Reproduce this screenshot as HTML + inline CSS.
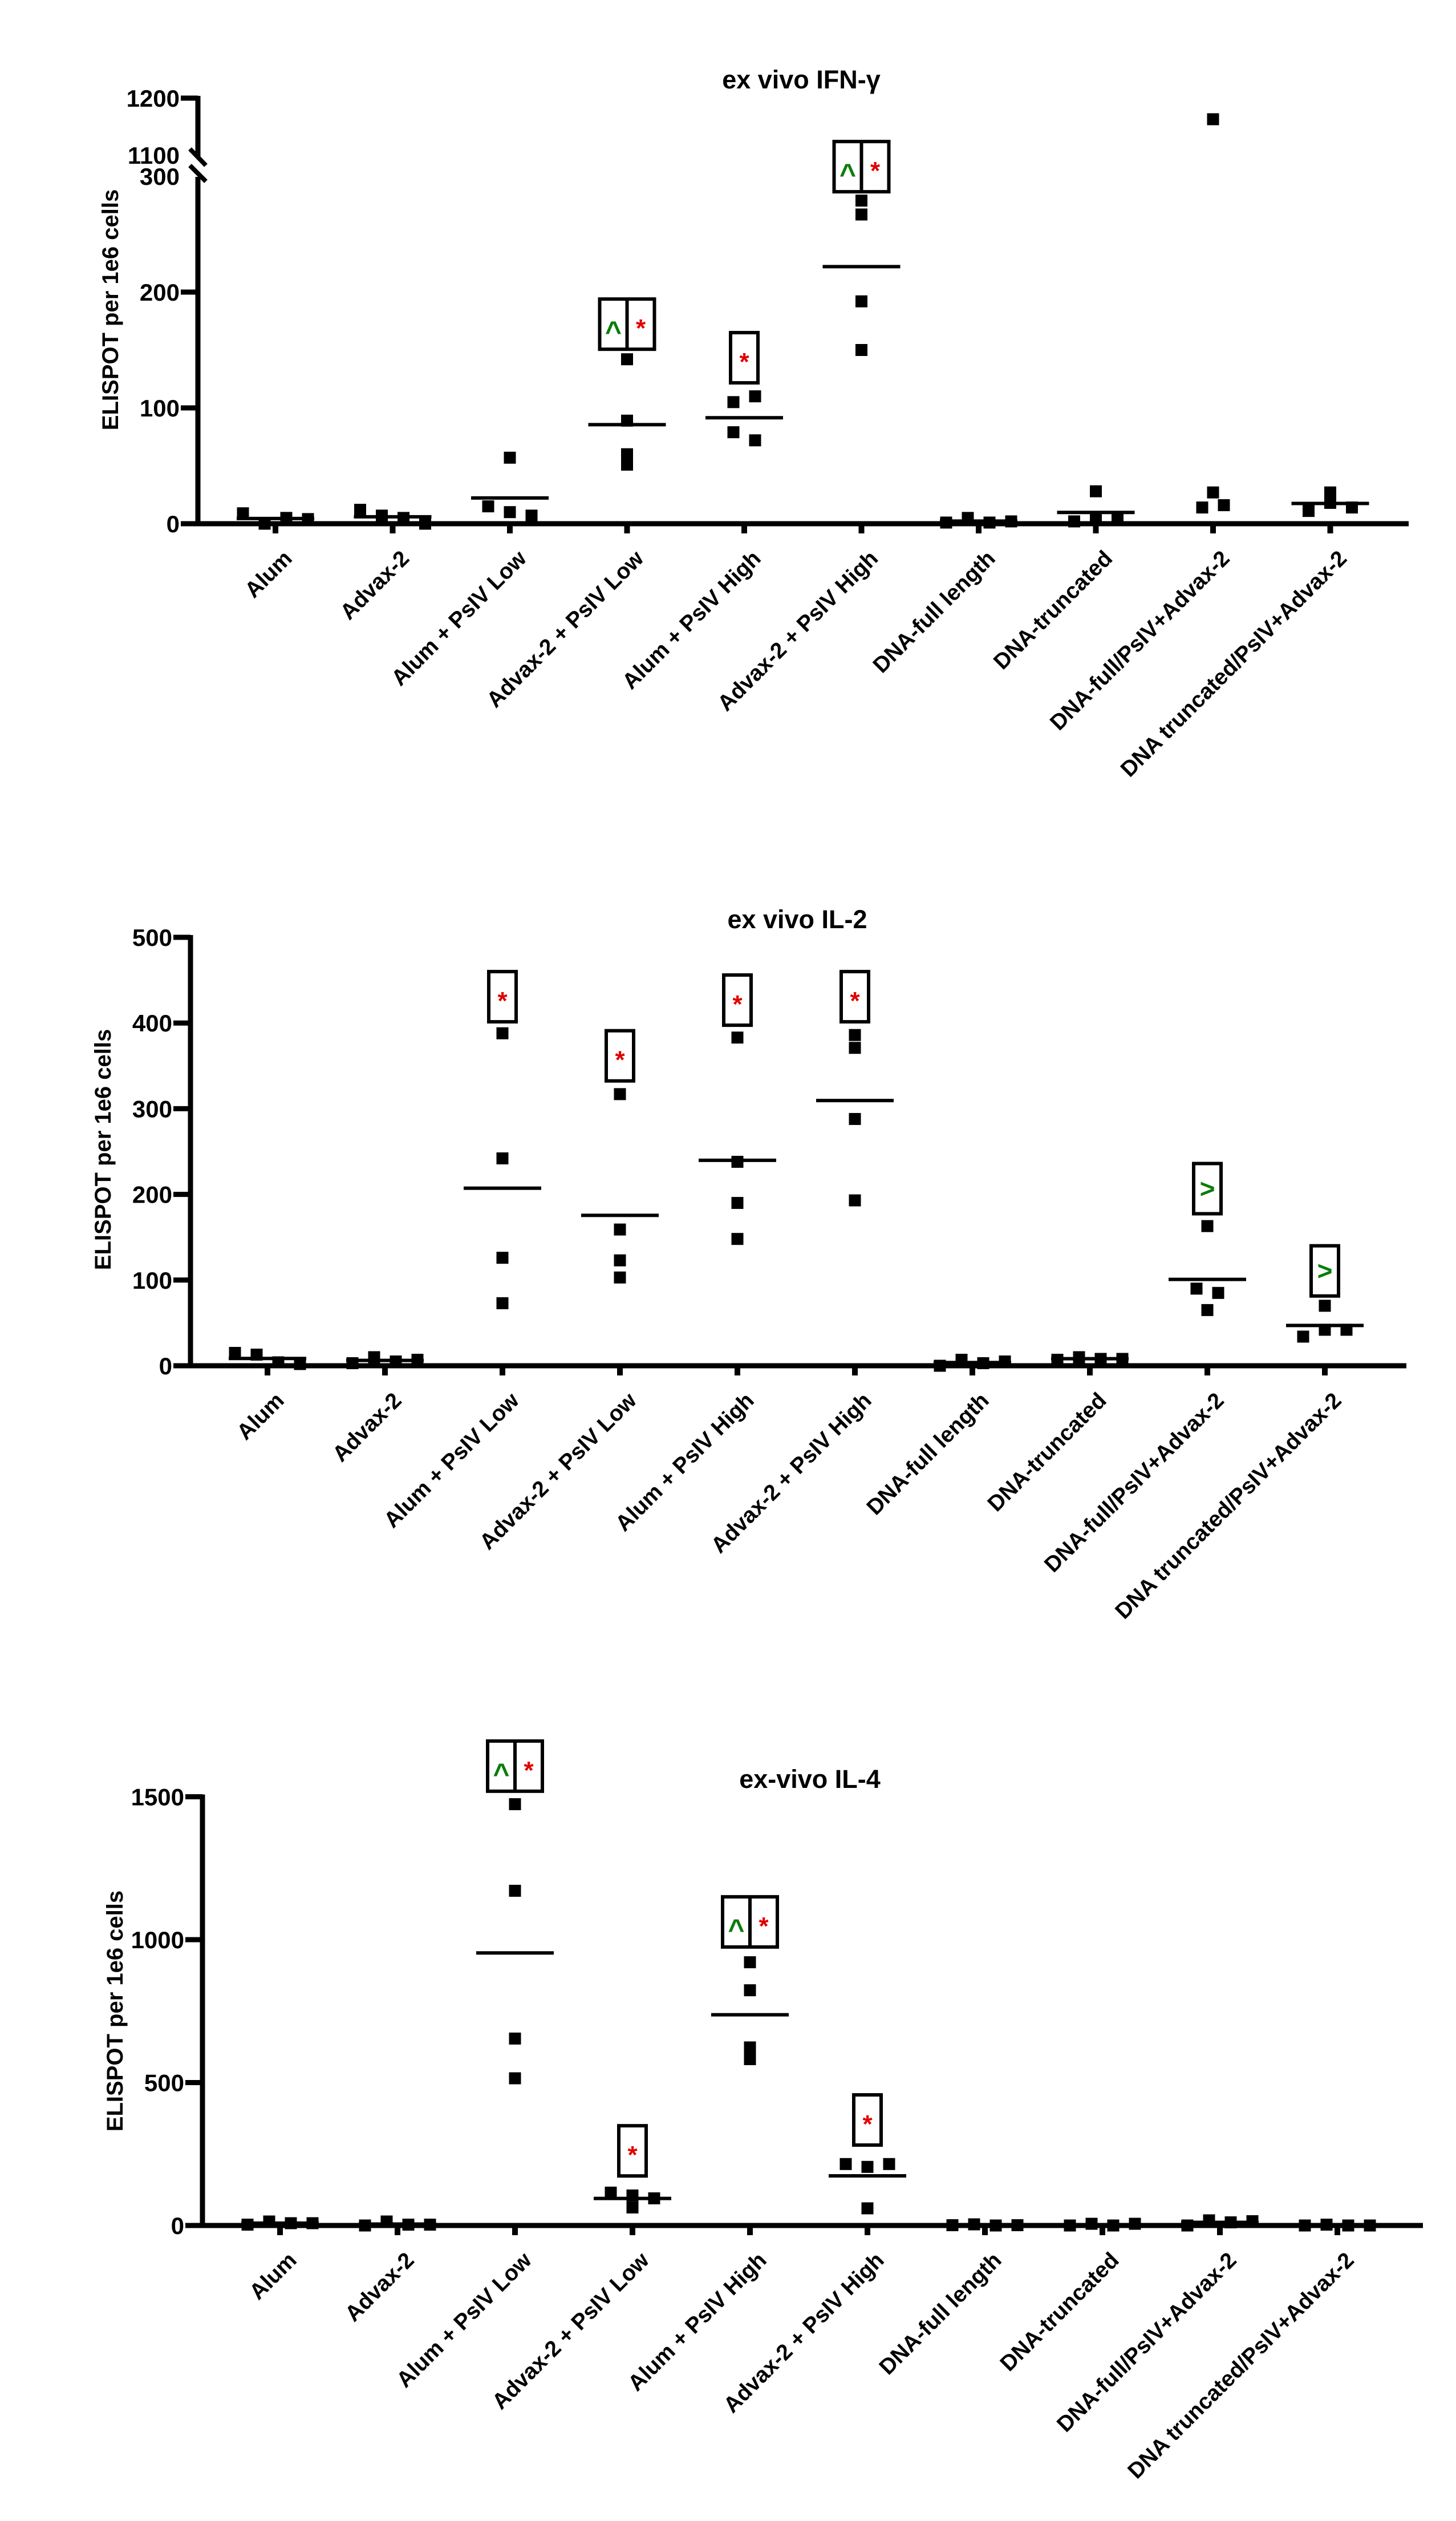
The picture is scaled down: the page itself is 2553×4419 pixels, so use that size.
<!DOCTYPE html>
<html><head><meta charset="utf-8"><style>
html,body{margin:0;padding:0;background:#fff;}
svg{display:block;}
text{font-family:"Liberation Sans",Arial,sans-serif;font-weight:bold;}
</style></head><body>
<svg id="fig" xmlns="http://www.w3.org/2000/svg" width="2553" height="4419" viewBox="0 0 2553 4419">
<rect width="2553" height="4419" fill="#fff"/>
</svg>
<script>
const categories = ["Alum","Advax-2","Alum + PsIV Low","Advax-2 + PsIV Low","Alum + PsIV High","Advax-2 + PsIV High","DNA-full length","DNA-truncated","DNA-full/PsIV+Advax-2","DNA truncated/PsIV+Advax-2"];

// Panel 1: IFN-gamma
const ifnValues = [[9,0,5,4],[12,7,5,0],[57,15,10,7],[142,89,51,60],[105,110,79,72],[279,267,192,150],[1,5,1,2],[28,2,5,4],[1163,27,14,16],[11,18,27,14]];
const ifnTicks = [0,100,200,300,1100,1200];
const ifnAnnotGroups = [3,4,5];
const ifnAnnotTops = [194,165,330];
const ifnAnnotSyms = ["^*","*","^*"];

// Panel 2: IL-2
const il2Values = [[15,13,4,2],[3,10,5,7],[388,242,126,73],[317,159,123,103],[383,238,190,148],[386,371,288,193],[0,7,3,5],[7,10,8,8],[163,90,85,65],[70,34,42,42]];
const il2Ticks = [0,100,200,300,400,500];
const il2AnnotGroups = [2,3,4,5,8,9];
const il2AnnotTops = [460,391,456,460,236,140];
const il2AnnotSyms = ["*","*","*","*",">",">"];

// Panel 3: IL-4
const il4Values = [[3,14,8,8],[0,14,3,3],[1474,1171,654,515],[115,63,105,95],[921,823,623,582],[215,205,215,60],[1,4,0,1],[0,6,0,6],[0,18,11,15],[0,3,0,0]];
const il4Ticks = [0,500,1000,1500];
const il4AnnotGroups = [2,3,4,5];
const il4AnnotTops = [1695,349,1150,457];
const il4AnnotSyms = ["^*","*","^*","*"];

const NS = "http://www.w3.org/2000/svg";
const svg = document.getElementById("fig");
function mk(tag, attrs, parent){
  const e = document.createElementNS(NS, tag);
  for (const k in attrs) e.setAttribute(k, attrs[k]);
  (parent||svg).appendChild(e);
  return e;
}

function drawPanel(cfg){
  const g = mk("g", {});
  
  
  const y = cfg.yScale;
  const xc = i => cfg.x0 + i*cfg.step;
  const t = mk("text", {x:cfg.titleX, y:cfg.titleY, "font-size":45, "text-anchor":"middle", fill:"#000"}, g);
  t.textContent = cfg.title;
  
  
  const yt = mk("text", {x:0, y:0, "font-size":40, "text-anchor":"middle", fill:"#000", transform:`translate(${cfg.axX-140},${cfg.yTitleY}) rotate(-90)`}, g);
  yt.textContent = "ELISPOT per 1e6 cells";
  
  
  if (cfg.broken){
    const a1 = mk("line", {x1:cfg.axX, x2:cfg.axX, y1:cfg.y0+4, y2:310, stroke:"#000", "stroke-width":9}, g);
    
    
    const a2 = mk("line", {x1:cfg.axX, x2:cfg.axX, y1:275, y2:y(1200)-4, stroke:"#000", "stroke-width":9}, g);
    
    
    const bm1 = mk("line", {x1:cfg.axX-14, y1:261, x2:cfg.axX+14, y2:290, stroke:"#000", "stroke-width":8}, g);
    
    
    const bm2 = mk("line", {x1:cfg.axX-14, y1:290, x2:cfg.axX+14, y2:318, stroke:"#000", "stroke-width":8}, g);
    
    
  } else {
    const a = mk("line", {x1:cfg.axX, x2:cfg.axX, y1:cfg.y0+4, y2:y(cfg.ticks[cfg.ticks.length-1])-4, stroke:"#000", "stroke-width":9}, g);
    
    
  }
  const xa = mk("line", {x1:cfg.axX-30, x2:cfg.xEnd, y1:cfg.y0, y2:cfg.y0, stroke:"#000", "stroke-width":9}, g);
  
  
  cfg.ticks.forEach(v => {
    const ty = y(v);
    if (!(cfg.broken && (v === 1100 || v === 300))){
      const tl = mk("line", {x1:cfg.axX-30, x2:cfg.axX, y1:ty, y2:ty, stroke:"#000", "stroke-width":9}, g);
      
      
    }
    const tx = mk("text", {x:cfg.axX-32, y:ty+15, "font-size":42, "text-anchor":"end", fill:"#000"}, g);
    tx.textContent = String(v);
    
    
  });
  categories.forEach((c,i) => {
    const x = xc(i);
    const tl = mk("line", {x1:x, x2:x, y1:cfg.y0, y2:cfg.y0+17, stroke:"#000", "stroke-width":10}, g);
    
    
    const lb = mk("text", {x:0, y:0, "font-size":39, "text-anchor":"end", "dominant-baseline":"hanging", fill:"#000", transform:`translate(${x+12},${cfg.y0+44}) rotate(-45)`}, g);
    lb.textContent = c;
    
    
  });
  const STEP = 38, TH = 16, SQ = 21;
  cfg.values.forEach((vals,i) => {
    const x = xc(i);
    const pts = vals.map((v,k)=>({v, k, py:y(v)}));
    const sorted = pts.slice().sort((a,b)=>a.py-b.py);
    const clusters = [];
    sorted.forEach(p => {
      const last = clusters[clusters.length-1];
      if (last && Math.abs(p.py - last[last.length-1].py) < TH) last.push(p); else clusters.push([p]);
    });
    clusters.forEach(cl => {
      cl.sort((a,b)=>a.k-b.k);
      cl.forEach((p,j) => {
        const ox = (j - (cl.length-1)/2) * STEP;
        const r = mk("rect", {x:x+ox-SQ/2, y:p.py-SQ/2, width:SQ, height:SQ, fill:"#000"}, g);
        
        
      });
    });
    const mean = vals.reduce((a,b)=>a+b,0)/vals.length;
    if (!(cfg.broken && mean > 300 && mean < 1100)){
      const my = y(mean);
      const ml = mk("line", {x1:x-68, x2:x+68, y1:my, y2:my, stroke:"#000", "stroke-width":6}, g);
      
      
    }
  });
  cfg.annotGroups.forEach((gi,n) => {
    const syms = cfg.annotSyms[n];
    const cw = 48, h = 88;
    const w = cw*syms.length;
    const x = xc(gi) - w/2;
    const top = y(cfg.annotTops[n]);
    const box = mk("rect", {x:x, y:top, width:w, height:h, fill:"none", stroke:"#000", "stroke-width":6}, g);
    
    
    if (syms.length > 1){
      const dv = mk("line", {x1:x+cw, x2:x+cw, y1:top, y2:top+h, stroke:"#000", "stroke-width":6}, g);
      
      
    }
    syms.split("").forEach((s,j) => {
      const cx = x + cw*j + cw/2;
      let fill = "#e00000", fy = top + h/2 + 22, fs = 44;
      if (s === "^"){ fill = "#0a7d0a"; fy = top + h/2 + 30; fs = 50; }
      if (s === ">"){ fill = "#0a7d0a"; fy = top + h/2 + 16; fs = 46; }
      const st = mk("text", {x:cx, y:fy, "font-size":fs, "text-anchor":"middle", fill:fill}, g);
      st.textContent = s;
      
      
    });
  });
}

const p1y0 = 918;
function p1Scale(v){
  if (v >= 1100) return 272 - (v-1100)*1.0;
  return p1y0 - v*2.03;
}
drawPanel({name:"panel-ifn-gamma", title:"ex vivo IFN-\u03b3", titleX:1405, titleY:155, values:ifnValues, ticks:ifnTicks,
  annotGroups:ifnAnnotGroups, annotTops:ifnAnnotTops, annotSyms:ifnAnnotSyms,
  axX:347, y0:p1y0, x0:483, step:205.5, xEnd:2470, yTitleY:543, broken:true, yScale:p1Scale});

const p2y0 = 2394;
drawPanel({name:"panel-il2", title:"ex vivo IL-2", titleX:1398, titleY:1627, values:il2Values, ticks:il2Ticks,
  annotGroups:il2AnnotGroups, annotTops:il2AnnotTops, annotSyms:il2AnnotSyms,
  axX:334, y0:p2y0, x0:469, step:206, xEnd:2466, yTitleY:2015, broken:false, yScale:v=>p2y0 - v*1.502});

const p3y0 = 3901;
drawPanel({name:"panel-il4", title:"ex-vivo IL-4", titleX:1420, titleY:3134, values:il4Values, ticks:il4Ticks,
  annotGroups:il4AnnotGroups, annotTops:il4AnnotTops, annotSyms:il4AnnotSyms,
  axX:355, y0:p3y0, x0:491, step:206, xEnd:2495, yTitleY:3525, broken:false, yScale:v=>p3y0 - v*0.501});
</script>
</body></html>
